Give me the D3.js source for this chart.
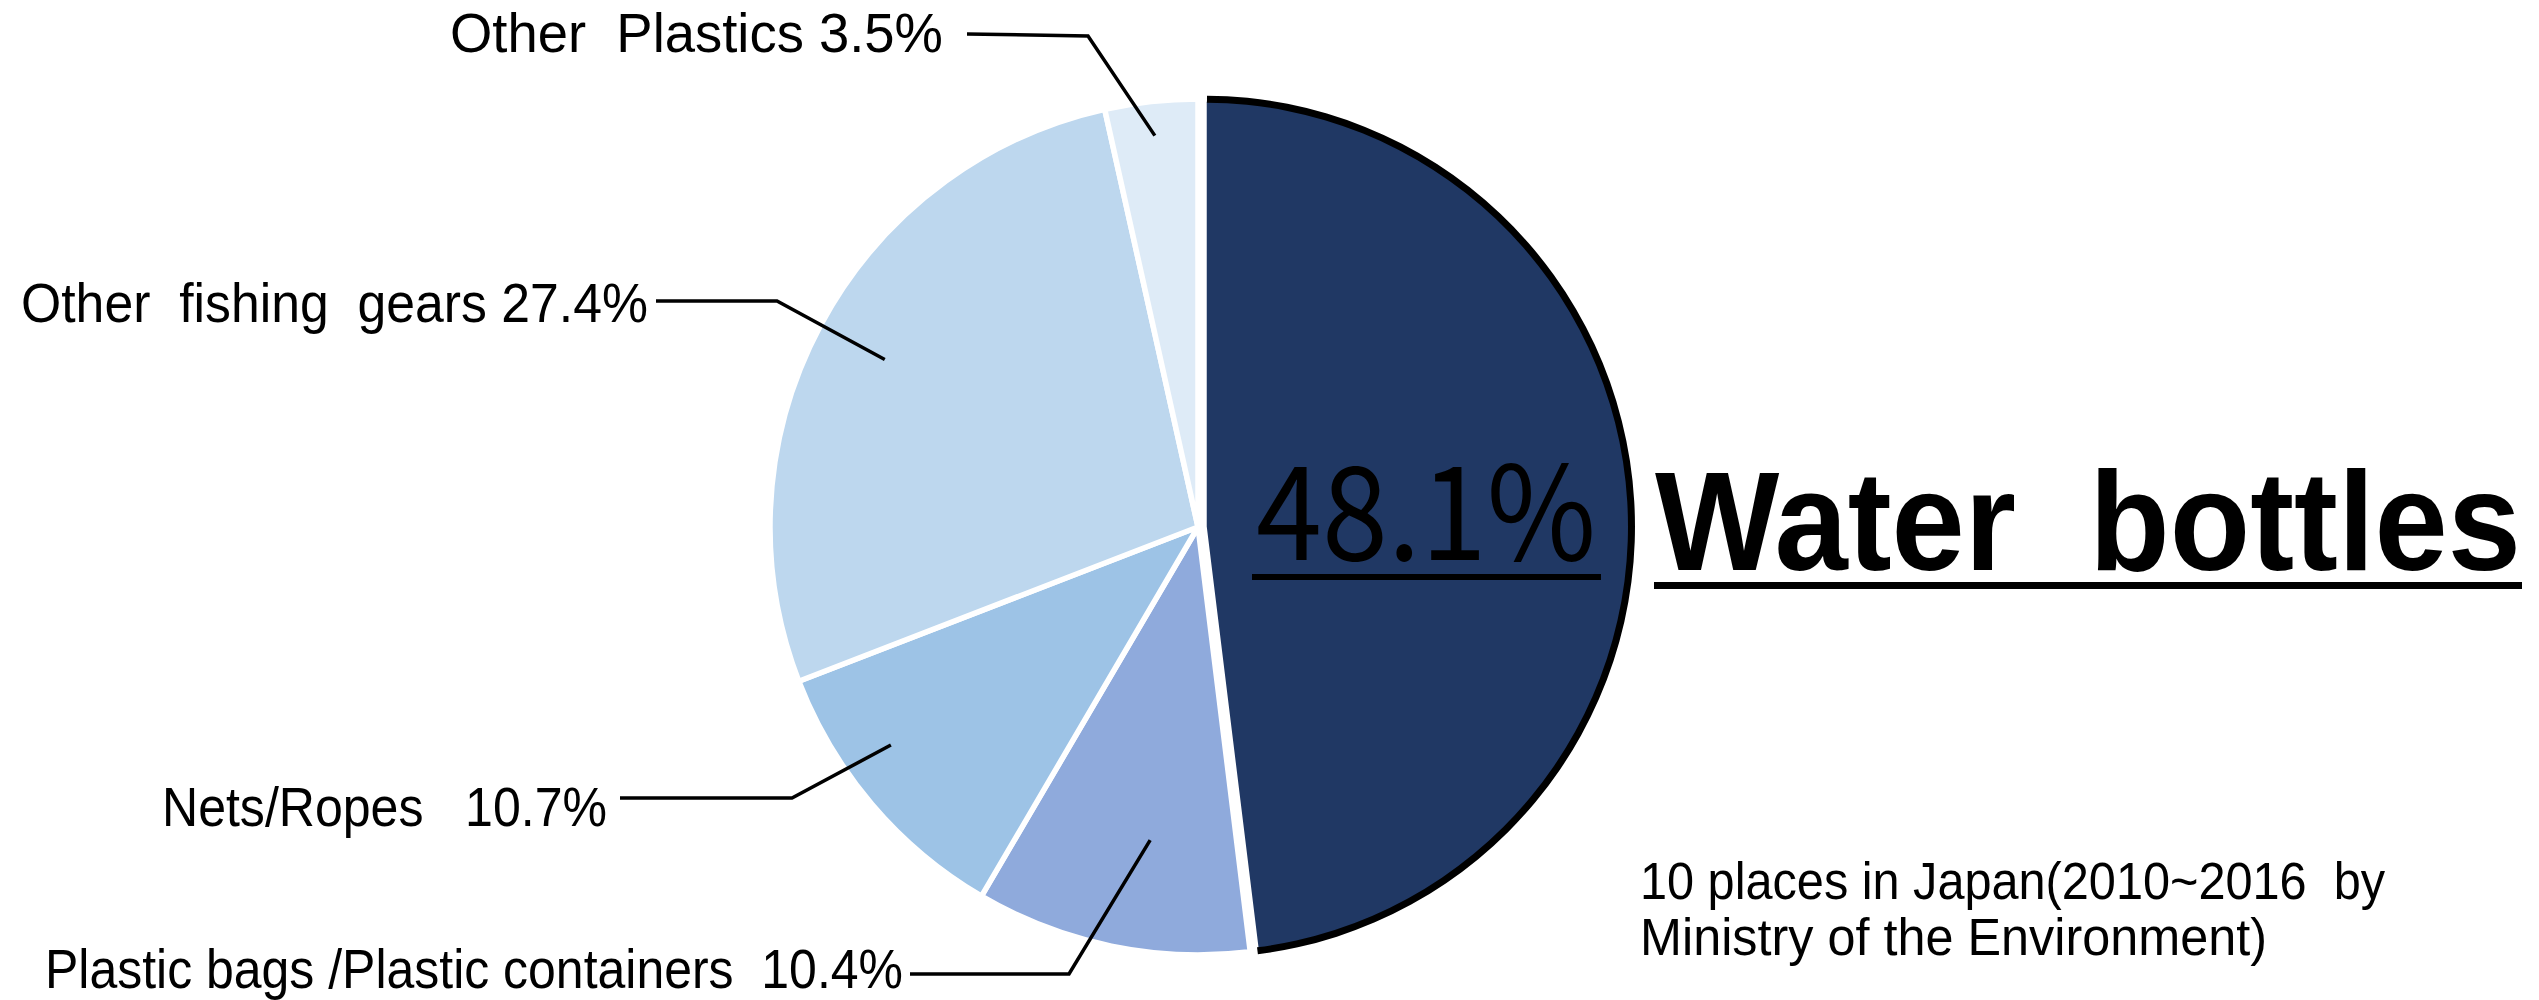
<!DOCTYPE html>
<html>
<head>
<meta charset="utf-8">
<script src="https://cdn.jsdelivr.net/npm/d3@7"></script>
<style>
body { margin:0; background:#fff; }
text { white-space: pre; }
</style>
</head>
<body>
<script>
var w = 2539, h = 1000;

// data
var categories = ["Water  bottles", "Plastic bags /Plastic containers", "Nets/Ropes", "Other  fishing  gears", "Other  Plastics"];
var values = [48.1, 10.4, 10.7, 27.4, 3.5];
var colors = ["#203864", "#8faadc", "#9dc3e6", "#bdd7ee", "#deebf7"];
var gaps = ["", "  ", "   ", " ", " "]; // spacing before the percent, as in the original
var noteLines = ["10 places in Japan(2010~2016  by", "Ministry of the Environment)"];

// layout for the outside labels (index matches the slices)
// rf = how far into the slice the leader ends, da = small angle nudge (deg)
var labelPos = [
	null,
	{x:45,  y:988, len:858, lx:910, ly:974, ex:1069, ey:974, rf:0.74, da:-3},
	{x:162, y:826, len:445, lx:620, ly:798, ex:792,  ey:798, rf:0.88, da:5},
	{x:21,  y:322, len:627, lx:656, ly:301, ex:777,  ey:301, rf:0.83, da:0},
	{x:450, y:52,  len:493, lx:967, ly:34,  ex:1088, ey:36,  rf:0.92, da:0}
];

var cx = 1198, cy = 527, r = 428;
var font = "'Liberation Sans', Arial, sans-serif";

var svg = d3.select("body").append("svg")
	.attr("width", w)
	.attr("height", h)

var pie = d3.pie().sort(null).value(function(d){ return d; });
var arcs = pie(values);
var arc = d3.arc().innerRadius(0).outerRadius(r);

var g = svg.append("g").attr("transform", "translate(" + cx + "," + cy + ")");

g.selectAll("path.slice")
	.data(arcs)
	.enter()
	.append("path")
	.attr("class", "slice")
	.attr("d", arc)
	.attr("transform", function(d, i){
		if (i != 0) return null;
		var a = (d.startAngle + d.endAngle) / 2;
		return "translate(" + (6*Math.sin(a)) + "," + (-6*Math.cos(a)) + ")";
	})
	.style("fill", function(d, i){ return colors[i]; })
	.style("stroke", "#fff")
	.style("stroke-width", 5.5)
	.style("stroke-linejoin", "round")

// black outline on the outer edge of the big slice
var a0 = (arcs[0].startAngle + arcs[0].endAngle) / 2;
g.append("path")
	.attr("d", d3.arc().innerRadius(r - 4).outerRadius(r + 3)
		.startAngle(arcs[0].startAngle + 0.007).endAngle(arcs[0].endAngle - 0.003)())
	.attr("transform", "translate(" + (6*Math.sin(a0)) + "," + (-6*Math.cos(a0)) + ")")
	.style("fill", "#000")

// leader lines and labels
arcs.forEach(function(d, i){
	var p = labelPos[i];
	if (!p) return;
	var a = (d.startAngle + d.endAngle) / 2 + p.da * Math.PI / 180;
	var ix = cx + r*p.rf*Math.sin(a), iy = cy - r*p.rf*Math.cos(a);
	svg.append("path")
		.attr("d", d3.line()([[p.lx, p.ly], [p.ex, p.ey], [ix, iy]]))
		.style("fill", "none")
		.style("stroke", "#000")
		.style("stroke-width", 3.5)
	svg.append("text")
		.attr("x", p.x).attr("y", p.y)
		.attr("textLength", p.len)
		.attr("lengthAdjust", "spacingAndGlyphs")
		.style("font-family", font)
		.style("font-size", "55px")
		.text(categories[i] + gaps[i] + d3.format(".1f")(values[i]) + "%")
});

// big label for water bottles
svg.append("text")
	.attr("x", 1256).attr("y", 560)
	.attr("textLength", 340)
	.attr("lengthAdjust", "spacingAndGlyphs")
	.style("font-family", "'Noto Sans CJK JP', 'Noto Sans', sans-serif")
	.style("font-size", "130px")
	.text(d3.format(".1f")(values[0]) + "%")
svg.append("rect")
	.attr("x", 1252).attr("y", 574).attr("width", 349).attr("height", 6)
	.style("fill", "#000")

svg.append("text")
	.attr("transform", "translate(1655,570) scale(1,1.07)")
	.attr("textLength", 866)
	.attr("lengthAdjust", "spacingAndGlyphs")
	.style("font-family", font)
	.style("font-weight", "bold")
	.style("font-size", "131px")
	.text(categories[0])
svg.append("rect")
	.attr("x", 1654).attr("y", 582).attr("width", 868).attr("height", 7)
	.style("fill", "#000")

// source note
var note = svg.append("text")
	.attr("x", 1640).attr("y", 899)
	.style("font-family", font)
	.style("font-size", "51px")
note.selectAll("tspan")
	.data(noteLines)
	.enter()
	.append("tspan")
	.attr("x", 1640)
	.attr("y", function(d, i){ return 899 + i*56; })
	.attr("textLength", function(d, i){ return i == 0 ? 745 : 627; })
	.attr("lengthAdjust", "spacingAndGlyphs")
	.text(function(d){ return d; })
</script>
</body>
</html>
